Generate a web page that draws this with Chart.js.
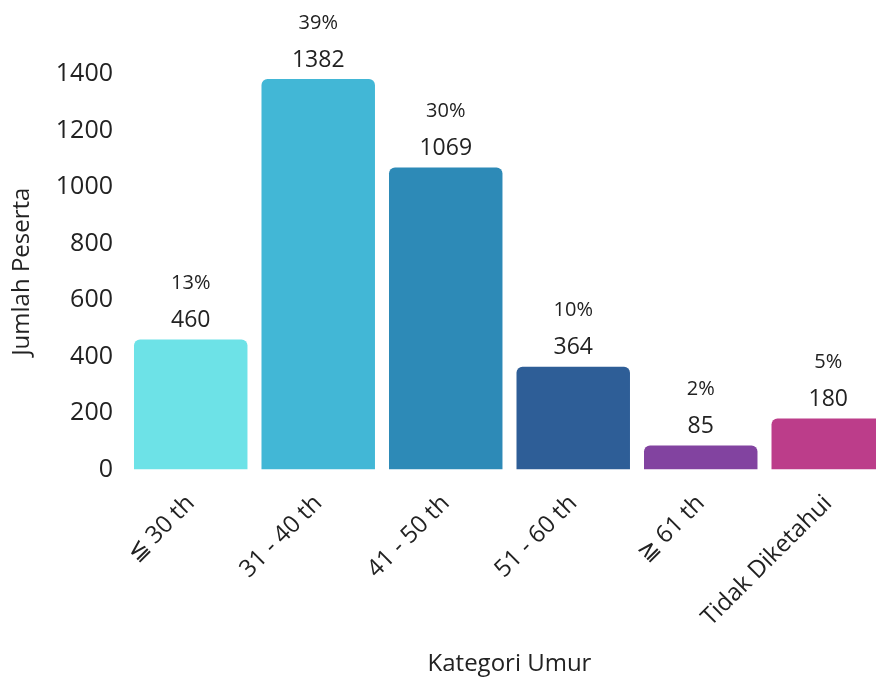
<!DOCTYPE html>
<html>
<head>
<meta charset="utf-8">
<script src="https://cdn.jsdelivr.net/npm/chart.js@4"></script>
<style>
  html, body { margin: 0; padding: 0; background: #ffffff; overflow: hidden; }
  #wrap { position: relative; width: 900px; height: 679px; }
</style>
</head>
<body>
<div id="wrap"><canvas id="c" width="900" height="679"></canvas></div>
<script>
const categories = ["≦ 30 th", "31 - 40 th", "41 - 50 th", "51 - 60 th", "≧ 61 th", "Tidak Diketahui"];
const jumlahPeserta = [460, 1382, 1069, 364, 85, 180];
const persentase = ["13%", "39%", "30%", "10%", "2%", "5%"];
const barColors = ["#6de2e7", "#42b7d6", "#2d8ab7", "#2e5e97", "#8243a0", "#bc3d8a"];
const yTicks = [0, 200, 400, 600, 800, 1000, 1200, 1400];

const FONT = '"Open Sans", sans-serif';

const valueLabels = {
  id: 'valueLabels',
  afterDatasetsDraw(chart) {
    const ctx = chart.ctx;
    const meta = chart.getDatasetMeta(0);
    ctx.save();
    ctx.textAlign = 'center';
    ctx.textBaseline = 'middle';
    ctx.fillStyle = '#222222';
    meta.data.forEach((bar, i) => {
      ctx.font = '23px ' + FONT;
      ctx.fillText(String(jumlahPeserta[i]), bar.x, bar.y - 19);
      ctx.font = '20px ' + FONT;
      ctx.fillText(persentase[i], bar.x, bar.y - 56);
    });
    ctx.restore();
  }
};

new Chart(document.getElementById('c'), {
  type: 'bar',
  data: {
    labels: categories,
    datasets: [{
      data: jumlahPeserta,
      backgroundColor: barColors,
      borderRadius: 6,
      borderSkipped: 'start',
      barPercentage: 0.89,
      categoryPercentage: 1.0
    }]
  },
  options: {
    responsive: false,
    animation: false,
    layout: { padding: { top: 74, right: 8, left: 8, bottom: 0 } },
    plugins: { legend: { display: false }, tooltip: { enabled: false } },
    scales: {
      x: {
        grid: { display: false },
        border: { display: false },
        ticks: {
          color: '#222222',
          font: { family: FONT, size: 24 },
          maxRotation: 45, minRotation: 45,
          padding: 12
        },
        title: {
          display: true, text: 'Kategori Umur', color: '#222222',
          font: { family: FONT, size: 24 },
          padding: { top: 6, bottom: 0 }
        }
      },
      y: {
        min: 0, max: 1400,
        afterBuildTicks(axis) { axis.ticks = yTicks.map(v => ({ value: v })); },
        grid: { display: false, drawTicks: false },
        border: { display: false },
        ticks: {
          color: '#222222',
          font: { family: FONT, size: 25 },
          padding: 14,
          callback: (v) => String(v)
        },
        title: {
          display: true, text: 'Jumlah Peserta', color: '#222222',
          font: { family: FONT, size: 24 },
          padding: { top: 0, bottom: 5 }
        }
      }
    }
  },
  plugins: [valueLabels]
});
</script>
</body>
</html>
